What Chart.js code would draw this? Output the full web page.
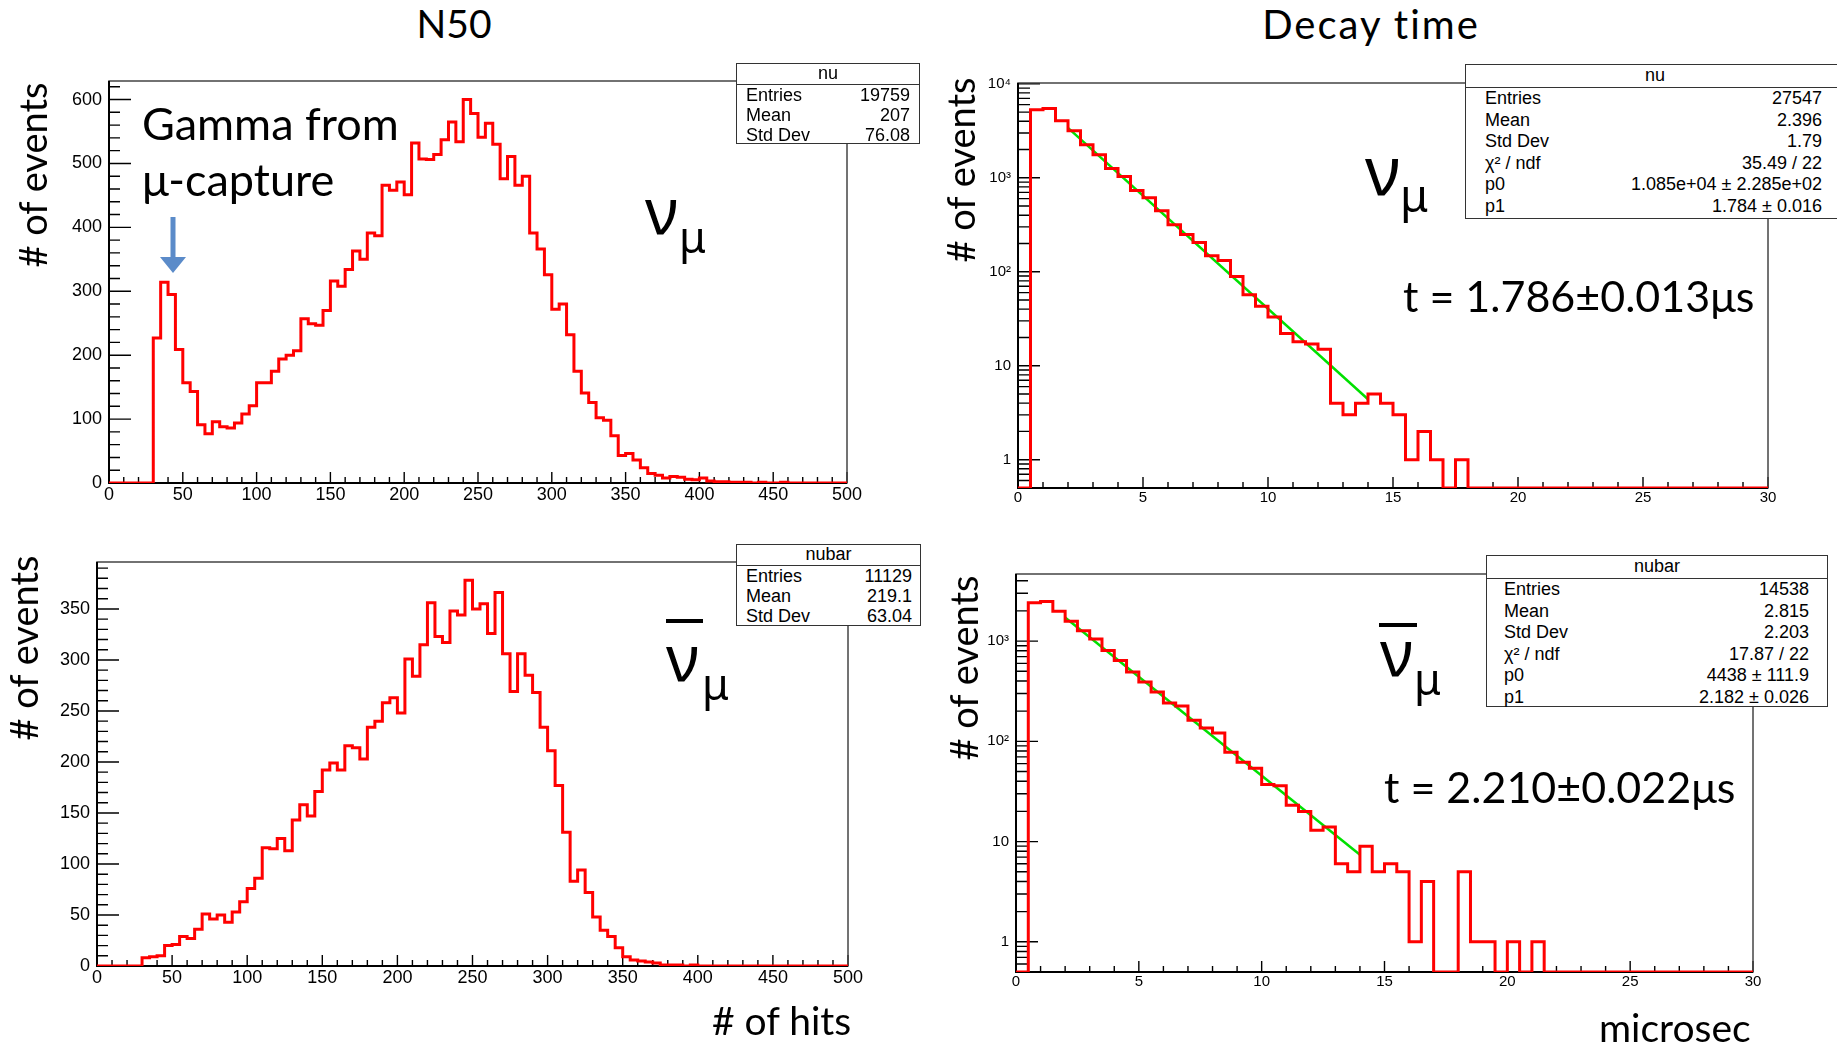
<!DOCTYPE html>
<html>
<head>
<meta charset="utf-8">
<title>N50 and decay time</title>
<script src="https://cdn.jsdelivr.net/npm/chart.js@4.4.1/dist/chart.umd.min.js"></script>
<style>
html, body { margin: 0; padding: 0; background: #fff; }
body { position: relative; width: 1837px; height: 1046px; overflow: hidden; font-family: Lato, 'Noto Sans', sans-serif; color: #000; }
canvas { position: absolute; z-index: 1; }
.t { position: absolute; white-space: nowrap; line-height: 1; z-index: 3; }
.gk { font-family: 'Noto Sans', sans-serif; }
.ylab { position: absolute; width: 300px; height: 50px; line-height: 50px; text-align: center; font-size: 38px; transform: rotate(-90deg); z-index: 3; white-space: nowrap; }
.stats { position: absolute; background: #fff; border: 1.5px solid #333; font-family: 'Liberation Sans', Arial, sans-serif; z-index: 4; box-sizing: border-box; }
.stats .hd { text-align: center; border-bottom: 1.5px solid #333; }
.stats .r { display: flex; justify-content: space-between; }
.bar { position: absolute; background: #000; z-index: 3; }
.mask { position: absolute; background: #fff; z-index: 2; }
</style>
</head>
<body>

<canvas id="nuN50"></canvas>
<canvas id="nuDecay"></canvas>
<canvas id="nubarN50"></canvas>
<canvas id="nubarDecay"></canvas>

<!-- titles -->
<div class="t" style="left:254px;top:4px;width:400px;text-align:center;font-size:39px">N50</div>
<div class="t" style="left:1171px;top:4px;width:400px;text-align:center;font-size:40px;letter-spacing:2px">Decay time</div>

<!-- axis titles -->
<div class="ylab" style="left:-118px;top:150px"># of events</div>
<div class="ylab" style="left:810px;top:145px"># of events</div>
<div class="mask" style="left:0;top:556px;width:59px;height:232px"></div>
<div class="ylab" style="left:-127px;top:623px"># of events</div>
<div class="ylab" style="left:813px;top:643px"># of events</div>
<div class="t" style="left:712px;top:1001px;font-size:39px"># of hits</div>
<div class="t" style="left:1599px;top:1008px;font-size:39px">microsec</div>

<!-- annotation -->
<div class="t" style="left:142px;top:101px;font-size:45px">Gamma from</div>
<div class="t" style="left:142px;top:157px;font-size:45px">μ-capture</div>
<svg style="position:absolute;left:0;top:0;z-index:3" width="300" height="300">
  <rect x="170.5" y="217" width="5" height="41" fill="#5b8bc9"/>
  <polygon points="160,257 186,257 173,273" fill="#5b8bc9"/>
</svg>

<!-- neutrino labels -->
<div class="t gk" style="left:645px;top:178px;font-size:64px">ν</div>
<div class="t gk" style="left:679px;top:215px;font-size:43px">μ</div>
<div class="bar" style="left:666px;top:619px;width:37px;height:4px"></div>
<div class="t gk" style="left:666px;top:625px;font-size:64px">ν</div>
<div class="t gk" style="left:702px;top:662px;font-size:43px">μ</div>
<div class="t gk" style="left:1365px;top:135px;font-size:68px">ν</div>
<div class="t gk" style="left:1400px;top:172px;font-size:45px">μ</div>
<div class="bar" style="left:1379px;top:623px;width:38px;height:4px"></div>
<div class="t gk" style="left:1380px;top:620px;font-size:64px">ν</div>
<div class="t gk" style="left:1414px;top:657px;font-size:43px">μ</div>

<!-- fitted lifetimes -->
<div class="t" style="left:1403px;top:274px;font-size:43px">t = 1.786±0.013μs</div>
<div class="t" style="left:1384px;top:765px;font-size:43px">t = 2.210±0.022μs</div>

<!-- stats boxes -->
<div class="stats" style="left:736px;top:63px;width:184px;height:81px;font-size:18px">
  <div class="hd" style="height:20px;line-height:19px">nu</div>
  <div class="r" style="line-height:20px;padding:0 9px"><span>Entries</span><span>19759</span></div>
  <div class="r" style="line-height:20px;padding:0 9px"><span>Mean</span><span>207</span></div>
  <div class="r" style="line-height:20px;padding:0 9px"><span>Std Dev</span><span>76.08</span></div>
</div>
<div class="stats" style="left:736px;top:544px;width:185px;height:82px;font-size:18px">
  <div class="hd" style="height:20px;line-height:19px">nubar</div>
  <div class="r" style="line-height:20px;padding:0 8px 0 9px"><span>Entries</span><span>11129</span></div>
  <div class="r" style="line-height:20px;padding:0 8px 0 9px"><span>Mean</span><span>219.1</span></div>
  <div class="r" style="line-height:20px;padding:0 8px 0 9px"><span>Std Dev</span><span>63.04</span></div>
</div>
<div class="stats" style="left:1465px;top:64px;width:380px;height:155px;font-size:18px">
  <div class="hd" style="height:22px;line-height:20px">nu</div>
  <div class="r" style="line-height:21.5px;padding:0 22px 0 19px"><span>Entries</span><span>27547</span></div>
  <div class="r" style="line-height:21.5px;padding:0 22px 0 19px"><span>Mean</span><span>2.396</span></div>
  <div class="r" style="line-height:21.5px;padding:0 22px 0 19px"><span>Std Dev</span><span>1.79</span></div>
  <div class="r" style="line-height:21.5px;padding:0 22px 0 19px"><span>χ² / ndf</span><span>35.49 / 22</span></div>
  <div class="r" style="line-height:21.5px;padding:0 22px 0 19px"><span>p0</span><span>1.085e+04 ± 2.285e+02</span></div>
  <div class="r" style="line-height:21.5px;padding:0 22px 0 19px"><span>p1</span><span>1.784 ± 0.016</span></div>
</div>
<div class="stats" style="left:1486px;top:555px;width:342px;height:152px;font-size:18px">
  <div class="hd" style="height:22px;line-height:20px">nubar</div>
  <div class="r" style="line-height:21.5px;padding:0 18px 0 17px"><span>Entries</span><span>14538</span></div>
  <div class="r" style="line-height:21.5px;padding:0 18px 0 17px"><span>Mean</span><span>2.815</span></div>
  <div class="r" style="line-height:21.5px;padding:0 18px 0 17px"><span>Std Dev</span><span>2.203</span></div>
  <div class="r" style="line-height:21.5px;padding:0 18px 0 17px"><span>χ² / ndf</span><span>17.87 / 22</span></div>
  <div class="r" style="line-height:21.5px;padding:0 18px 0 17px"><span>p0</span><span>4438 ± 111.9</span></div>
  <div class="r" style="line-height:21.5px;padding:0 18px 0 17px"><span>p1</span><span>2.182 ± 0.026</span></div>
</div>

<script>
// N50 histograms: 100 bins of 5 hits, 0..500
const n50BinWidth = 5;
const nuN50Counts = [
    0, 0, 0, 0, 0, 0, 227, 314, 295, 209,
    157, 143, 91, 77, 96, 88, 86, 94, 108, 121,
    157, 157, 175, 194, 200, 207, 257, 249, 247, 270,
    316, 308, 334, 363, 350, 391, 387, 466, 458, 471,
    451, 532, 507, 506, 514, 537, 565, 534, 600, 578,
    541, 563, 530, 476, 511, 466, 480, 391, 366, 326,
    272, 280, 232, 175, 141, 126, 102, 98, 74, 43,
    46, 36, 24, 15, 12, 8, 10, 9, 6, 5,
    8, 3, 2, 2, 1, 1, 1, 0, 1, 0,
    0, 1, 0, 0, 0, 0, 0, 0, 0, 0
];
const nubarN50Counts = [
    0, 0, 0, 0, 0, 0, 8, 9, 10, 20,
    21, 29, 27, 36, 51, 46, 50, 43, 53, 63,
    76, 86, 116, 115, 125, 113, 143, 158, 147, 171,
    192, 199, 192, 216, 214, 203, 234, 240, 258, 263,
    248, 301, 284, 315, 356, 323, 317, 348, 344, 378,
    350, 355, 326, 366, 306, 269, 306, 285, 268, 234,
    211, 177, 131, 83, 94, 72, 48, 35, 29, 18,
    9, 6, 5, 4, 3, 1, 1, 1, 0, 1,
    0, 0, 0, 0, 0, 0, 0, 0, 0, 0,
    0, 0, 0, 0, 0, 0, 0, 0, 0, 0
];

// decay time histograms: 60 bins of 0.5 microsec, 0..30
const decayBinWidth = 0.5;
const nuDecayCounts = [
    0, 5300, 5470, 4045, 3165, 2245, 1757, 1257, 1033, 733,
    612, 445, 316, 249, 205, 148, 132, 89, 57, 43,
    33, 22, 18, 17, 15, 4, 3, 4, 5, 4,
    3, 1, 2, 1, 0, 1, 0, 0, 0, 0,
    0, 0, 0, 0, 0, 0, 0, 0, 0, 0,
    0, 0, 0, 0, 0, 0, 0, 0, 0, 0
];
const nubarDecayCounts = [
    0, 2410, 2485, 1990, 1582, 1268, 1047, 807, 642, 491,
    390, 310, 241, 225, 162, 136, 121, 78, 62, 54,
    37, 36, 23, 20, 13, 14, 6, 5, 9, 5,
    6, 5, 1, 4, 0, 0, 5, 1, 1, 0,
    1, 0, 1, 0, 0, 0, 0, 0, 0, 0,
    0, 0, 0, 0, 0, 0, 0, 0, 0, 0
];

// exponential fits (straight on log axis), end points
const nuFitX = [2, 14];
const nuFitY = [3400, 4.4];
const nubarFitX = [2, 14];
const nubarFitY = [1720, 7.4];

// tick labels
const n50XTicks = [0, 50, 100, 150, 200, 250, 300, 350, 400, 450, 500];
const nuN50YTicks = [0, 100, 200, 300, 400, 500, 600];
const nubarN50YTicks = [0, 50, 100, 150, 200, 250, 300, 350];
const decayXTicks = [0, 5, 10, 15, 20, 25, 30];
const decadeTicks = [1, 10, 100, 1000, 10000];
const decadeLabels = ['1', '10', '10²', '10³', '10⁴'];

const PAD = {l: 70, t: 14, r: 30, b: 34};

function histPoints(counts, width, floor) {
    const pts = counts.map((c, i) => ({x: i * width, y: Math.max(c, floor)}));
    pts.push({x: counts.length * width, y: Math.max(counts[counts.length - 1], floor)});
    return pts;
}

function linearTicks(min, max, minor, major, shortLen, longLen) {
    const out = [];
    for (let k = 0; min + k * minor <= max + 1e-9; k++) {
        const v = min + k * minor;
        const r = v / major;
        out.push([v, Math.abs(r - Math.round(r)) < 1e-6 ? longLen : shortLen]);
    }
    return out;
}

function logTicks(min, max, shortLen, longLen) {
    const out = [];
    for (let d = -1; d <= 4; d++) {
        for (let k = 1; k <= 9; k++) {
            const v = k * Math.pow(10, d);
            if (v >= min && v <= max) out.push([v, k === 1 ? longLen : shortLen]);
        }
    }
    return out;
}

// ROOT style frame with ticks pointing inwards
function framePlugin(xTicks, yTicks) {
    return {
        id: 'rootFrame',
        beforeDatasetsDraw(chart) {
            const {ctx, chartArea: a, scales: {x, y}} = chart;
            ctx.save();
            ctx.strokeStyle = '#000';
            ctx.lineWidth = 1.4;
            ctx.beginPath();
            xTicks.forEach(([v, len]) => {
                const px = x.getPixelForValue(v);
                ctx.moveTo(px, a.bottom);
                ctx.lineTo(px, a.bottom - len);
            });
            yTicks.forEach(([v, len]) => {
                const py = y.getPixelForValue(v);
                ctx.moveTo(a.left, py);
                ctx.lineTo(a.left + len, py);
            });
            ctx.stroke();
            ctx.lineWidth = 1.5;
            ctx.strokeStyle = '#444';
            ctx.strokeRect(a.left, a.top, a.right - a.left, a.bottom - a.top);
            ctx.lineWidth = 2;
            ctx.strokeStyle = '#000';
            ctx.beginPath();
            ctx.moveTo(a.left, a.top);
            ctx.lineTo(a.left, a.bottom);
            ctx.lineTo(a.right, a.bottom);
            ctx.stroke();
            ctx.restore();
        }
    };
}

function histChart(id, frame, o) {
    const canvas = document.getElementById(id);
    canvas.width = frame.w + PAD.l + PAD.r;
    canvas.height = frame.h + PAD.t + PAD.b;
    canvas.style.left = (frame.x - PAD.l) + 'px';
    canvas.style.top = (frame.y - PAD.t) + 'px';

    const datasets = [{
        data: histPoints(o.counts, o.binWidth, o.floor),
        borderColor: '#ff0000',
        borderWidth: 3,
        stepped: 'before',
        pointRadius: 0,
        fill: false
    }];
    if (o.fitX) {
        datasets.push({
            data: o.fitX.map((x, i) => ({x: x, y: o.fitY[i]})),
            borderColor: '#00e000',
            borderWidth: 2.5,
            pointRadius: 0,
            fill: false
        });
    }

    const tickFont = {family: 'Liberation Sans', size: o.fontSize};
    const yScale = {
        type: o.log ? 'logarithmic' : 'linear',
        min: o.yMin,
        max: o.yMax,
        grid: {display: false, drawTicks: false},
        border: {display: false},
        ticks: {
            color: '#000', font: tickFont, padding: 7, autoSkip: false,
            callback: o.log ? (v) => decadeLabels[decadeTicks.indexOf(v)] : (v) => String(v)
        },
        afterBuildTicks: (s) => { s.ticks = o.yTicks.filter(v => v >= o.yMin && v <= o.yMax).map(v => ({value: v})); },
        afterFit: (s) => { s.width = PAD.l; s.paddingTop = 0; s.paddingBottom = 0; }
    };

    return new Chart(canvas, {
        type: 'line',
        data: {datasets},
        options: {
            responsive: false,
            animation: false,
            events: [],
            layout: {padding: {top: PAD.t, right: PAD.r, left: 0, bottom: 0}},
            plugins: {legend: {display: false}, tooltip: {enabled: false}},
            scales: {
                x: {
                    type: 'linear',
                    min: o.xMin,
                    max: o.xMax,
                    grid: {display: false, drawTicks: false},
                    border: {display: false},
                    ticks: {color: '#000', font: tickFont, padding: 1, maxRotation: 0, autoSkip: false},
                    afterBuildTicks: (s) => { s.ticks = o.xTicks.map(v => ({value: v})); },
                    afterFit: (s) => { s.height = PAD.b; s.paddingLeft = 0; s.paddingRight = 0; }
                },
                y: yScale
            }
        },
        plugins: [framePlugin(o.xTickMarks, o.yTickMarks)]
    });
}

histChart('nuN50', {x: 109, y: 81, w: 738, h: 402}, {
    counts: nuN50Counts, binWidth: n50BinWidth, floor: 0,
    xMin: 0, xMax: 500, yMin: 0, yMax: 629, log: false, fontSize: 18,
    xTicks: n50XTicks, yTicks: nuN50YTicks,
    xTickMarks: linearTicks(0, 500, 10, 50, 6, 11),
    yTickMarks: linearTicks(0, 629, 20, 100, 11, 22)
});

histChart('nubarN50', {x: 97, y: 562, w: 751, h: 404}, {
    counts: nubarN50Counts, binWidth: n50BinWidth, floor: 0,
    xMin: 0, xMax: 500, yMin: 0, yMax: 396, log: false, fontSize: 18,
    xTicks: n50XTicks, yTicks: nubarN50YTicks,
    xTickMarks: linearTicks(0, 500, 10, 50, 6, 11),
    yTickMarks: linearTicks(0, 396, 10, 50, 11, 22)
});

histChart('nuDecay', {x: 1018, y: 83, w: 750, h: 405}, {
    counts: nuDecayCounts, binWidth: decayBinWidth, floor: 0.5,
    fitX: nuFitX, fitY: nuFitY,
    xMin: 0, xMax: 30, yMin: 0.5, yMax: 10200, log: true, fontSize: 15,
    xTicks: decayXTicks, yTicks: decadeTicks,
    xTickMarks: linearTicks(0, 30, 1, 5, 6, 11),
    yTickMarks: logTicks(0.5, 10200, 12, 22)
});

histChart('nubarDecay', {x: 1016, y: 574, w: 737, h: 398}, {
    counts: nubarDecayCounts, binWidth: decayBinWidth, floor: 0.5,
    fitX: nubarFitX, fitY: nubarFitY,
    xMin: 0, xMax: 30, yMin: 0.5, yMax: 4670, log: true, fontSize: 15,
    xTicks: decayXTicks, yTicks: decadeTicks,
    xTickMarks: linearTicks(0, 30, 1, 5, 6, 11),
    yTickMarks: logTicks(0.5, 4670, 12, 22)
});
</script>
</body>
</html>
